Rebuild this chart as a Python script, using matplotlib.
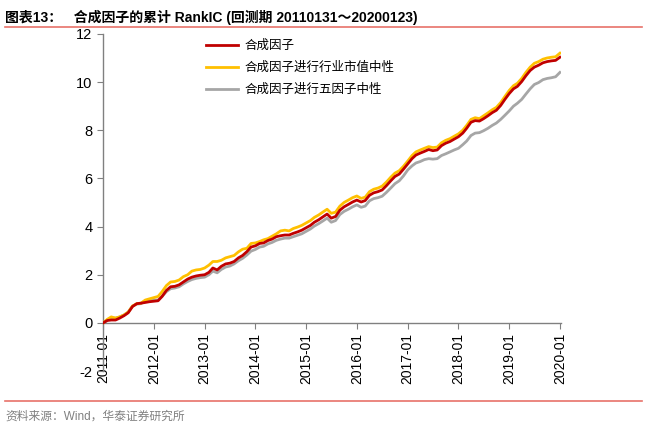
import matplotlib
matplotlib.use('Agg')
import matplotlib.pyplot as plt
import matplotlib.dates as mdates
import pandas as pd

plt.rcParams['font.family'] = ['Liberation Sans', 'Noto Sans CJK SC', 'DejaVu Sans']
plt.rcParams['axes.unicode_minus'] = False

# monthly points, 2011-01 .. 2020-01
dates = pd.date_range('2011-01-01', '2020-01-01', freq='MS')

composite = [0, 0.1, 0.12, 0.12, 0.2, 0.3, 0.42, 0.68, 0.8, 0.82,
             0.85, 0.88, 0.9, 0.92, 1.1, 1.35, 1.5, 1.52, 1.58, 1.7,
             1.82, 1.9, 1.95, 1.98, 2.0, 2.1, 2.28, 2.2, 2.35, 2.45,
             2.48, 2.55, 2.7, 2.8, 2.96, 3.15, 3.2, 3.3, 3.32, 3.42,
             3.48, 3.58, 3.62, 3.65, 3.65, 3.72, 3.78, 3.85, 3.95, 4.05,
             4.18, 4.28, 4.4, 4.52, 4.35, 4.42, 4.68, 4.82, 4.92, 5.02,
             5.1, 5.02, 5.08, 5.3, 5.4, 5.45, 5.52, 5.7, 5.9, 6.08,
             6.18, 6.38, 6.6, 6.82, 6.97, 7.05, 7.12, 7.2, 7.15, 7.18,
             7.36, 7.46, 7.53, 7.63, 7.73, 7.88, 8.08, 8.33, 8.4, 8.38,
             8.48, 8.6, 8.73, 8.83, 9.03, 9.28, 9.52, 9.72, 9.82, 10.02,
             10.26, 10.48, 10.62, 10.7, 10.8, 10.85, 10.88, 10.9, 11.03]

ind_size_neutral = [0, 0.15, 0.25, 0.2, 0.25, 0.33, 0.45, 0.7, 0.8, 0.82,
                    0.95, 1.0, 1.05, 1.1, 1.3, 1.55, 1.7, 1.72, 1.78, 1.92,
                    2.0, 2.15, 2.2, 2.22, 2.28, 2.4, 2.55, 2.55, 2.6, 2.7,
                    2.75, 2.8, 2.95, 3.06, 3.1, 3.3, 3.32, 3.38, 3.45, 3.5,
                    3.6, 3.7, 3.82, 3.85, 3.82, 3.92, 3.98, 4.05, 4.15, 4.25,
                    4.38, 4.48, 4.6, 4.72, 4.55, 4.6, 4.85, 5.0, 5.1, 5.2,
                    5.27, 5.17, 5.22, 5.45, 5.55, 5.6, 5.68, 5.85, 6.05, 6.22,
                    6.32, 6.5, 6.72, 6.95, 7.1, 7.18, 7.25, 7.32, 7.28, 7.3,
                    7.48, 7.58, 7.65, 7.75, 7.85, 8.0, 8.2, 8.45, 8.52, 8.48,
                    8.6, 8.72, 8.85, 8.95, 9.15, 9.4, 9.65, 9.85, 9.95, 10.15,
                    10.4, 10.62, 10.78, 10.85, 10.95, 11.0, 11.03, 11.05, 11.2]

five_factor_neutral = [0, 0.12, 0.2, 0.2, 0.25, 0.33, 0.45, 0.7, 0.78, 0.8,
                       0.92, 0.95, 0.95, 0.95, 1.1, 1.3, 1.42, 1.45, 1.5, 1.62,
                       1.72, 1.8, 1.85, 1.88, 1.9, 2.0, 2.15, 2.08, 2.22, 2.32,
                       2.36, 2.45, 2.58, 2.68, 2.82, 2.98, 3.05, 3.15, 3.18, 3.28,
                       3.34, 3.43, 3.48, 3.52, 3.52, 3.58, 3.64, 3.7, 3.8, 3.9,
                       4.02, 4.12, 4.23, 4.35, 4.18, 4.25, 4.5, 4.63, 4.72, 4.82,
                       4.9, 4.8, 4.85, 5.07, 5.16, 5.2, 5.26, 5.42, 5.6, 5.78,
                       5.9, 6.1, 6.35, 6.52, 6.64, 6.7, 6.78, 6.82, 6.8, 6.82,
                       6.95, 7.02, 7.1, 7.18, 7.25, 7.4, 7.55, 7.78, 7.88, 7.9,
                       7.98, 8.08, 8.2, 8.3, 8.45, 8.62, 8.8, 9.0, 9.12, 9.28,
                       9.5, 9.72, 9.9, 9.98, 10.1, 10.15, 10.18, 10.22, 10.4]

labels = ['合成因子', '合成因子进行行业市值中性', '合成因子进行五因子中性']
colors = ['#C00000', '#FFC000', '#A6A6A6']

fig = plt.figure(figsize=(6.48, 4.29), dpi=100)
ax = fig.add_axes([0.159, 0.135, 0.707, 0.786])

# gray first so red/yellow sit on top
ax.plot(dates, five_factor_neutral, color=colors[2], lw=2.0, label=labels[2], zorder=2)
ax.plot(dates, ind_size_neutral, color=colors[1], lw=2.0, label=labels[1], zorder=3)
ax.plot(dates, composite, color=colors[0], lw=2.0, label=labels[0], zorder=4)

ax.set_ylim(-2, 12)
ax.set_yticks(range(-2, 13, 2))
ax.set_xlim(pd.Timestamp('2011-01-01'), pd.Timestamp('2020-01-10'))
ax.xaxis.set_major_locator(mdates.YearLocator())
ax.xaxis.set_major_formatter(mdates.DateFormatter('%Y-%m'))

for s in ['top', 'right']:
    ax.spines[s].set_visible(False)
ax.spines['bottom'].set_position(('data', 0))
for s in ['left', 'bottom']:
    ax.spines[s].set_color('#808080')
    ax.spines[s].set_linewidth(1)

ax.tick_params(axis='y', labelsize=10.5, colors='#808080', labelcolor='black',
               direction='out', length=4)
ax.tick_params(axis='x', labelsize=10, colors='#808080', labelcolor='black',
               direction='out', length=4, pad=3)
for t in ax.get_xticklabels():
    t.set_rotation(90)
    t.set_va('top')
    t.set_ha('center')

h, l = ax.get_legend_handles_labels()
order = [2, 1, 0]
ax.legend([h[i] for i in order], [l[i] for i in order], loc='upper left',
          bbox_to_anchor=(0.2, 1.015), frameon=False, fontsize=9,
          handlelength=2.6, handletextpad=0.5, labelspacing=0.78)

fig.text(0.008, 0.978, '图表13：   合成因子的累计 RankIC (回测期 20110131～20200123)',
         fontsize=10, fontweight='bold', va='top', ha='left')
fig.add_artist(plt.Line2D([0.008, 0.99], [0.937, 0.937], color='#E8726A', lw=1.2))
fig.add_artist(plt.Line2D([0.008, 0.99], [0.066, 0.066], color='#E8726A', lw=1.2))
fig.text(0.008, 0.028, '资料来源：Wind，华泰证券研究所', fontsize=8.5,
         color='#808080', va='center', ha='left')

fig.savefig('out.png', dpi=100)
